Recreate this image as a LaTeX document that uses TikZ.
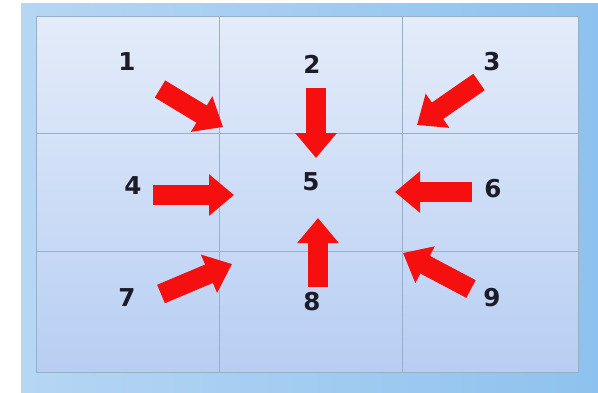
\documentclass[tikz,border=0pt]{standalone}
\usepackage{fontspec}
\setmainfont{DejaVu Sans}
\usepackage{tikz}
\usetikzlibrary{arrows.meta, calc}
\definecolor{PageBlue}{HTML}{B6D6F4}
\definecolor{PageDeep}{HTML}{8EC2EE}
\definecolor{CellTop}{HTML}{E4ECFA}
\definecolor{CellBottom}{HTML}{B7CEF3}
\definecolor{GridLine}{HTML}{98AFC8}
\definecolor{ArrowRed}{HTML}{F50F0F}
\definecolor{DigitInk}{HTML}{1C1C28}

\begin{document}
\begin{tikzpicture}[
    x=0.03cm, y=-0.03cm,
    digit/.style={font=\fontsize{21}{24}\selectfont\bfseries, text=DigitInk, inner sep=0pt},
    grid/.style={draw=GridLine, line width=0.6pt},
    push/.style={draw=ArrowRed, line width=0.6cm,
                 -{Triangle[length=0.75cm, width=1.2cm]}}
]
  \useasboundingbox (0,0) rectangle (598,392);
  % Slide background
  \fill[white] (0,0) rectangle (598,392);
  \shade[left color=PageBlue, right color=PageDeep] (21,3) rectangle (598,392);
  % Table of cells
  \shade[top color=CellTop, bottom color=CellBottom] (36,16) rectangle (578,372);
  \draw[grid] (36,16) rectangle (578,372);
  \foreach \gx in {219,402}{
    \draw[grid] (\gx,16) -- (\gx,372);
  }
  \foreach \gy in {133,251}{
    \draw[grid] (36,\gy) -- (578,\gy);
  }
  % Numbers
  \node[digit] (n1) at (127,62) {1};
  \node[digit] (n2) at (312,64) {2};
  \node[digit] (n3) at (492,62) {3};
  \node[digit] (n4) at (133,186) {4};
  \node[digit] (n5) at (311,182) {5};
  \node[digit] (n6) at (493,189) {6};
  \node[digit] (n7) at (127,298) {7};
  \node[digit] (n8) at (312,302) {8};
  \node[digit] (n9) at (492,298) {9};
  % Arrow ends
  \foreach \k/\tx/\ty/\hx/\hy in {1/160/89/223/127, 2/316/88/316/158, 3/479/82/417/125,
                                  4/153/195/234/195, 6/472/192/395/192, 7/161/294/232/264,
                                  8/318/287/318/218, 9/471/289/403/253}{
    \coordinate (t\k) at (\tx,\ty);
    \coordinate (h\k) at (\hx,\hy);
    \draw[push] (t\k) -- (h\k);
  }
\end{tikzpicture}
\end{document}
